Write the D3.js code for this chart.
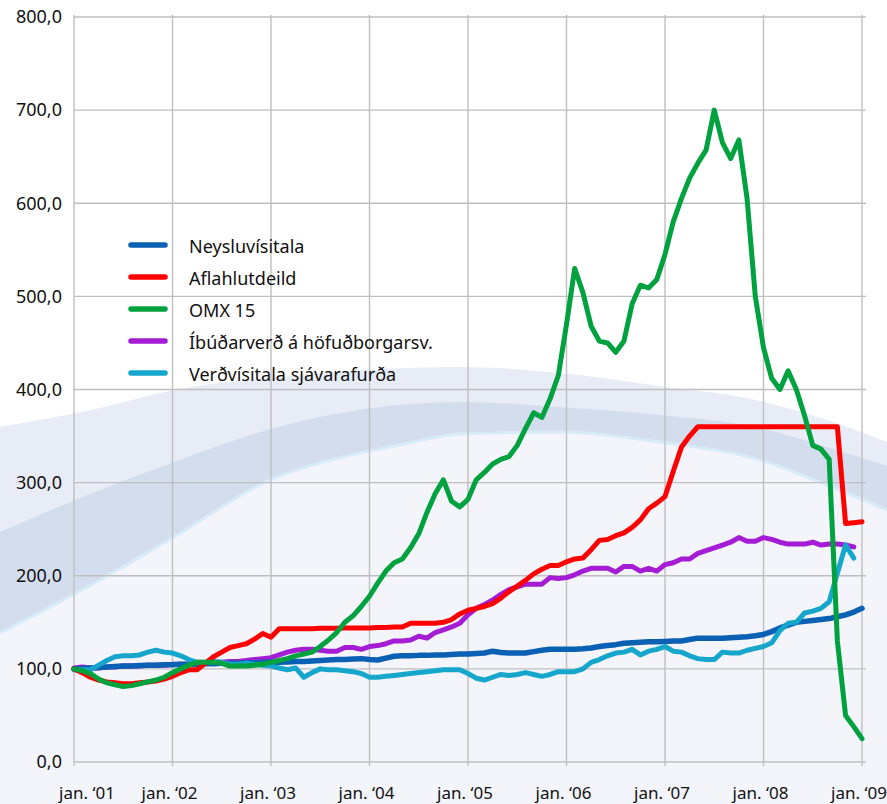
<!DOCTYPE html>
<html>
<head>
    <meta charset="utf-8">
    <title>vísitölur 2001-2009</title>
    <script src="https://d3js.org/d3.v7.min.js"></script>
</head>
<style>
    body {
        margin: 0;
        background: #fff;
    }

    text {
        font-family: "Noto Sans", "Open Sans", sans-serif;
        fill: #111;
    }
</style>
<body>
    <svg class="chart"></svg>

<script>
    // tick labels
    var yearLabels = ["jan. \u201801", "jan. \u201802", "jan. \u201803", "jan. \u201804", "jan. \u201805",
        "jan. \u201806", "jan. \u201807", "jan. \u201808", "jan. \u201809"];
    var yTicks = [0, 100, 200, 300, 400, 500, 600, 700, 800];

    // series names and colours
    var seriesNames = ["Neysluvísitala", "Aflahlutdeild", "OMX 15", "Íbúðarverð á höfuðborgarsv.", "Verðvísitala sjávarafurða"];
    var seriesColors = ["#0a60b2", "#ff0000", "#00a13f", "#a41cd3", "#16a6cc"];

    // monthly values, jan 2001 = index 0
    var neysluvisitala = [
        100, 100.5, 101, 101.5, 102, 102.5, 103, 103, 103.5, 104, 104, 104.5,
        104.5, 105, 105, 105, 105.5, 105.5, 106, 106, 106, 106.5, 106.5, 107,
        107, 107, 107.5, 108, 108, 108.5, 109, 109.5, 110, 110, 110.5, 111,
        110, 109.5, 111.5, 113.5, 114, 114, 114.5, 114.5, 115, 115, 115.5, 116,
        116, 116.5, 117, 119, 117.5, 117, 117, 117, 118.5, 120, 121, 121,
        121, 121, 121.5, 122.5, 124, 125, 126, 127.5, 128, 128.5, 129, 129,
        129.5, 130, 130, 131.5, 133, 133, 133, 133, 133.5, 134, 134.5, 135.5,
        137, 140, 144, 147, 150, 151, 152, 153, 154, 156, 158, 161,
        165
    ];
    var aflahlutdeild = [
        100, 96, 91, 88, 86, 85, 84, 84, 85, 86, 87, 89,
        92, 96, 99, 99, 106, 113, 118, 123, 125, 127, 132, 138,
        134, 143, 143, 143, 143, 143, 143.5, 143.5, 143.5, 144, 144, 144,
        144, 144.5, 144.5, 145, 145, 149, 149, 149, 149, 150, 153, 159,
        163, 165, 167, 170, 176, 183, 189, 195, 202, 207, 211, 211,
        215, 218, 219, 228, 238, 239, 243, 246, 252, 260, 272, 278,
        285, 312, 338, 350, 360, 360, 360, 360, 360, 360, 360, 360,
        360, 360, 360, 360, 360, 360, 360, 360, 360, 360, 256, 257,
        258
    ];
    var omx15 = [
        100, 98, 95, 89, 85, 83, 81, 82, 84, 86, 88, 91,
        96, 100, 104, 107, 107, 107, 106, 103, 103, 103, 104, 105,
        107, 109, 111, 114, 116, 118, 124, 131, 139, 150, 157, 167,
        178, 192, 205, 214, 218, 230, 245, 268, 288, 303, 280, 274,
        282, 303, 311, 320, 325, 328, 340, 358, 375, 370, 390, 415,
        470, 530, 504, 468, 452, 450, 440, 452, 492, 512, 509, 518,
        545, 580, 605, 627, 643, 657, 700, 665, 648, 668, 605, 500,
        445, 412, 400, 420, 400, 372, 340, 336, 325, 130, 50, 38,
        25
    ];
    var ibudarverd = [
        101, 102, 101, 101, 102, 102, 103, 103, 103, 104, 104, 104,
        105, 105, 105, 106, 106, 107, 107, 108, 108, 109, 110, 111,
        112, 115, 118, 120, 121, 121, 120, 119, 119, 123, 123, 121,
        124, 125, 127, 130, 130, 131, 135, 133, 139, 142, 145, 149,
        158, 165, 169, 174, 180, 185, 188, 191, 191, 191, 198, 197,
        198, 201, 205, 208, 208, 208, 204, 210, 210, 205, 208, 205,
        212, 214, 218, 218, 224, 227, 230, 233, 236, 241, 237, 237,
        241, 239, 236, 234, 234, 234, 236, 233, 234, 234, 233, 231
    ];
    var verdvisitala = [
        99, 99, 99, 104, 109, 113, 114, 114, 115, 118, 120, 118,
        117, 114, 110, 107, 107, 108, 107, 105, 105, 106, 105, 104,
        103, 101, 99, 101, 91, 96, 100, 99, 99, 98, 97, 95,
        91, 91, 92, 93, 94, 95, 96, 97, 98, 99, 99, 99,
        95, 90, 88, 91, 94, 93, 94, 96, 94, 92, 94, 97,
        97, 97, 100, 107, 110, 114, 117, 118, 121, 115, 119, 121,
        124, 119, 118, 114, 111, 110, 110, 118, 117, 117, 120, 122,
        124, 128, 141, 149, 150, 160, 162, 165, 172, 203, 233, 219
    ];

    // draw order: purple, blue, cyan, red, green
    var allSeries = [ibudarverd, neysluvisitala, verdvisitala, aflahlutdeild, omx15];
    var drawIndex = [3, 0, 4, 1, 2];

    // decorative arc behind the chart (page pixels)
    var outerEdge = [[0, 427], [100, 408], [174, 390], [280, 377], [460, 367], [560, 373], [660, 386], [760, 401], [827, 420], [887, 442]];
    var innerTop = [[0, 532], [100, 490], [174, 462], [274, 428], [460, 402], [560, 407], [660, 415], [760, 428], [827, 447], [887, 466]];
    var innerBottom = [[0, 633], [100, 580], [174, 537], [270, 480], [330, 460], [400, 445], [460, 434], [560, 432], [660, 442], [760, 460], [827, 485], [887, 510]];

    var fullW = 887;
    var fullH = 804;
    var margin = {
        top: 17,
        right: 25,
        bottom: 42,
        left: 74
    };
    var width = fullW - margin.left - margin.right;
    var height = fullH - margin.top - margin.bottom;

    var svg = d3.select(".chart")
        .attr("width", fullW)
        .attr("height", fullH);

    // backdrop
    svg.append("rect")
        .attr("width", fullW)
        .attr("height", fullH)
        .attr("fill", "#ffffff");

    var band = d3.area()
        .x(function(d) { return d[0]; })
        .y0(fullH)
        .y1(function(d) { return d[1]; })
        .curve(d3.curveMonotoneX);

    svg.append("path").attr("d", band(outerEdge)).attr("fill", "#e8ecf6");
    svg.append("path").attr("d", band(innerTop)).attr("fill", "#d4ddee");
    svg.append("path").attr("d", band(innerBottom)).attr("fill", "#f3f5fb");
    svg.append("path")
        .attr("d", d3.line().curve(d3.curveMonotoneX)(innerBottom))
        .attr("fill", "none")
        .attr("stroke", "#d8ebf8")
        .attr("stroke-width", 3);

    var chart = svg.append("g")
        .attr("transform", "translate(" + margin.left + "," + margin.top + ")");

    var x = d3.scaleLinear()
        .domain([0, 96])
        .range([0, width]);

    var y = d3.scaleLinear()
        .domain([0, 800])
        .range([height, 0]);

    var yearIdx = yearLabels.map(function(d, i) { return i * 12; });

    // horizontal grid
    chart.append("g")
        .selectAll("line")
        .data(yTicks)
        .enter()
        .append("line")
        .attr("x1", 0)
        .attr("x2", width + 4)
        .attr("y1", function(d) { return y(d); })
        .attr("y2", function(d) { return y(d); })
        .attr("stroke", "#bfbfbf")
        .attr("stroke-width", 1.4);

    // vertical grid
    chart.append("g")
        .selectAll("line")
        .data(yearIdx)
        .enter()
        .append("line")
        .attr("x1", function(d) { return x(d); })
        .attr("x2", function(d) { return x(d); })
        .attr("y1", -2)
        .attr("y2", height + 4)
        .attr("stroke", "#bfbfbf")
        .attr("stroke-width", 1.4);

    // y labels
    chart.append("g")
        .selectAll("text")
        .data(yTicks)
        .enter()
        .append("text")
        .attr("x", -12)
        .attr("y", function(d) { return y(d); })
        .attr("dy", "0.35em")
        .attr("text-anchor", "end")
        .style("font-size", "18px")
        .text(function(d) { return d3.format(".1f")(d).replace(".", ","); });

    // x labels
    chart.append("g")
        .selectAll("text")
        .data(yearLabels)
        .enter()
        .append("text")
        .attr("x", function(d, i) { return x(yearIdx[i]); })
        .attr("dx", function(d, i) { return i === 0 ? 13 : -3; })
        .attr("y", height + 31)
        .attr("dy", "0.35em")
        .attr("text-anchor", "middle")
        .style("font-size", "17px")
        .text(function(d) { return d; });

    // legend
    var legend = svg.append("g")
        .selectAll("g")
        .data(seriesNames)
        .enter()
        .append("g")
        .attr("transform", function(d, i) { return "translate(131," + (245 + i * 32) + ")"; });

    legend.append("line")
        .attr("x1", 0)
        .attr("x2", 34)
        .attr("stroke", function(d, i) { return seriesColors[i]; })
        .attr("stroke-width", 5.5)
        .attr("stroke-linecap", "round");

    legend.append("text")
        .attr("x", 58)
        .attr("y", 2)
        .attr("dy", "0.35em")
        .style("font-size", "18px")
        .text(function(d) { return d; });

    // lines
    var line = d3.line()
        .x(function(d, i) { return x(i); })
        .y(function(d) { return y(d); });

    chart.append("g")
        .selectAll("path")
        .data(allSeries)
        .enter()
        .append("path")
        .attr("d", line)
        .attr("fill", "none")
        .attr("stroke", function(d, i) { return seriesColors[drawIndex[i]]; })
        .attr("stroke-width", function(d, i) { return drawIndex[i] === 0 ? 5.5 : 5; })
        .attr("stroke-linejoin", "round")
        .attr("stroke-linecap", "round");
</script>
</body>
</html>
